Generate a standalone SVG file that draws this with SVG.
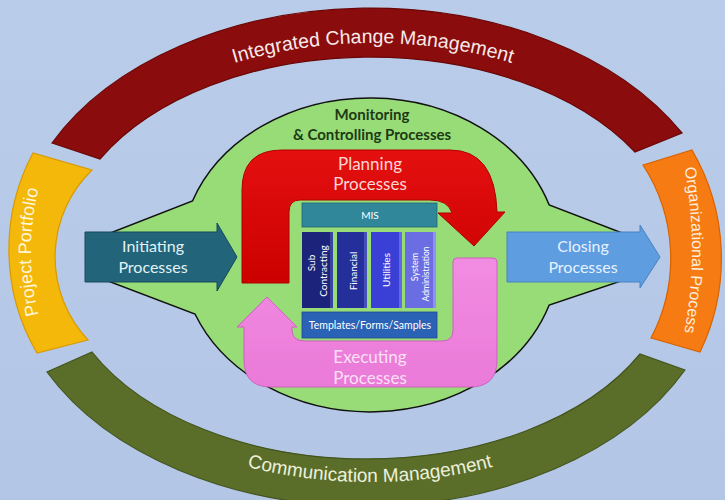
<svg xmlns="http://www.w3.org/2000/svg" width="725" height="500" viewBox="0 0 725 500">
<defs>
<linearGradient id="bg" x1="0" y1="0" x2="0" y2="1"><stop offset="0" stop-color="#b9cce9"/><stop offset="1" stop-color="#b3c6e6"/></linearGradient>
<linearGradient id="redg" x1="0" y1="0" x2="0" y2="1"><stop offset="0" stop-color="#e41010"/><stop offset="1" stop-color="#cc0000"/></linearGradient>
<linearGradient id="pinkg" x1="0" y1="0" x2="0" y2="1"><stop offset="0" stop-color="#f28ce2"/><stop offset="1" stop-color="#ea7ad8"/></linearGradient>
<path id="tpTop" d="M 46,255 A 327 212 0 0 1 700,255"/>
<path id="tpBot" d="M 30,255 A 340 227 0 0 0 710,255"/>
<path id="tpLeft" d="M 58.8,370 A 264 264 0 0 1 58.8,134"/>
<path id="tpRight" d="M 671.3,115 A 451 451 0 0 1 671.3,385"/>
</defs>
<style>
.ring{stroke-width:1.2}
.rt{font-family:"Liberation Sans",Arial,sans-serif;}
.cal{font-family:Lato,"Open Sans",sans-serif;}
.col{font-family:Lato,"Open Sans",sans-serif;font-size:10px;fill:#ffffff;text-anchor:middle}
.lbl{text-anchor:middle}
</style>
<rect width="725" height="500" fill="url(#bg)"/>

<g id="ring-integrated">
<path class="ring" d="M 52,143 A 356 243 0 0 1 682,133 L 635,152 A 308 195 0 0 0 100,159 Z" fill="#8a0c0c" stroke="#6a0606"/>
<text class="rt" font-size="19.5" fill="#f6eaea"><textPath href="#tpTop" startOffset="50%" text-anchor="middle">Integrated Change Management</textPath></text>
</g>
<g id="ring-portfolio">
<path class="ring" d="M 33,153 A 205 205 0 0 0 37,353 L 88,340 A 121 121 0 0 1 92,170 Z" fill="#f4b80a" stroke="#d89a00"/>
<text class="rt" font-size="18" fill="#fff6da"><textPath href="#tpLeft" startOffset="50%" text-anchor="middle">Project Portfolio</textPath></text>
</g>
<g id="ring-organizational">
<path class="ring" d="M 692,150 A 215 215 0 0 1 700,352 L 651,338 A 171 171 0 0 0 643,165 Z" fill="#f67b12" stroke="#d86200"/>
<text class="rt" font-size="16" fill="#fdeede"><textPath href="#tpRight" startOffset="50%" text-anchor="middle">Organizational Process</textPath></text>
</g>
<g id="ring-communication">
<path class="ring" d="M 47,372 A 356 243 0 0 0 685,370 L 640,354 A 308 195 0 0 1 92,352 Z" fill="#5a6e2a" stroke="#43541c"/>
<text class="rt" font-size="19" fill="#eef0dc"><textPath href="#tpBot" startOffset="50%" text-anchor="middle">Communication Management</textPath></text>
</g>

<g id="monitoring">
<path d="M 192.5,201 A 189 157 0 0 1 549.2,205 L 630,236 L 630,278 L 549.2,305 A 189 157 0 0 1 195,314 L 100,278 L 100,237 Z" fill="#98dc78" stroke="#111" stroke-width="1.5"/>
<text class="cal lbl" font-size="15" font-weight="bold" fill="#1c3a14"><tspan x="372" y="120">Monitoring</tspan><tspan x="372" y="140">&amp; Controlling Processes</tspan></text>
</g>

<g id="initiating">
<path d="M 85,232 L 217,232 L 217,223 L 237,257 L 217,291 L 217,282 L 85,282 Z" fill="#22647a" stroke="#17495a" stroke-width="1"/>
<text class="cal lbl" font-size="16" fill="#e2f2f5"><tspan x="153" y="252">Initiating</tspan><tspan x="153" y="273">Processes</tspan></text>
</g>
<g id="closing">
<path d="M 507,232 L 640,232 L 640,225 L 660,257 L 640,288 L 640,282 L 507,282 Z" fill="#5d9de0" stroke="#4a82c0" stroke-width="1"/>
<text class="cal lbl" font-size="16" fill="#e8f2ff"><tspan x="583" y="252">Closing</tspan><tspan x="583" y="273">Processes</tspan></text>
</g>

<g id="planning">
<path d="M 242,283 L 242,190 Q 242,150 282,150 L 450,150 Q 495,150 497,212 L 505,212 L 474,246 L 438,213 L 452,213 Q 448,200 430,200 L 300,200 Q 289,200 289,212 L 289,283 Z" fill="url(#redg)" stroke="#b00000" stroke-width="1"/>
<text class="cal lbl" font-size="17" fill="#ffd6d6"><tspan x="370" y="170">Planning</tspan><tspan x="370" y="190">Processes</tspan></text>
</g>

<g id="executing">
<path d="M 497,262 Q 497,258 493,258 L 457,258 Q 453,258 453,262 L 453,330 Q 453,341 442,341 L 305,341 Q 292,341 292,330 L 292,327 L 297,327 L 267,297 L 237,327 L 244,327 L 244,360 Q 244,387 271,387 L 470,387 Q 497,387 497,360 Z" fill="url(#pinkg)" stroke="#d060c0" stroke-width="1"/>
<text class="cal lbl" font-size="17" fill="#fbe0f6"><tspan x="370" y="363">Executing</tspan><tspan x="370" y="384">Processes</tspan></text>
</g>

<g id="mis">
<rect x="302" y="203" width="135" height="24" fill="#2f8799" stroke="#1f6575" stroke-width="0.8"/>
<text class="cal lbl" x="370" y="219" font-size="10" fill="#ffffff">MIS</text>
</g>
<g id="subcontracting">
<rect x="302" y="232" width="31" height="76" fill="#1c237a"/>
<rect x="330" y="232" width="3" height="76" fill="#3a43a0"/>
<text class="col" transform="translate(315,263) rotate(-90)">Sub</text>
<text class="col" transform="translate(327,271) rotate(-90)">Contracting</text>
</g>
<g id="financial">
<rect x="337" y="232" width="30" height="76" fill="#252f9c"/>
<rect x="364" y="232" width="3" height="76" fill="#4550b8"/>
<text class="col" transform="translate(357,271) rotate(-90)">Financial</text>
</g>
<g id="utilities">
<rect x="371" y="232" width="31" height="76" fill="#3a40d6"/>
<rect x="399" y="232" width="3" height="76" fill="#6268e6"/>
<text class="col" transform="translate(390,270) rotate(-90)">Utilities</text>
</g>
<g id="sysadmin">
<rect x="405" y="232" width="31" height="76" fill="#6a6ee2"/>
<rect x="433" y="232" width="3" height="76" fill="#8e92ee"/>
<text class="col" font-size="9" transform="translate(418,267) rotate(-90)" style="font-size:9px">System</text>
<text class="col" transform="translate(429,274) rotate(-90)" style="font-size:8.5px">Administration</text>
</g>
<g id="templates">
<rect x="302" y="312" width="135" height="26" fill="#2a62b6" stroke="#1c4a90" stroke-width="0.8"/>
<text class="cal lbl" x="370" y="329" font-size="10.5" fill="#ffffff">Templates/Forms/Samples</text>
</g>
</svg>
